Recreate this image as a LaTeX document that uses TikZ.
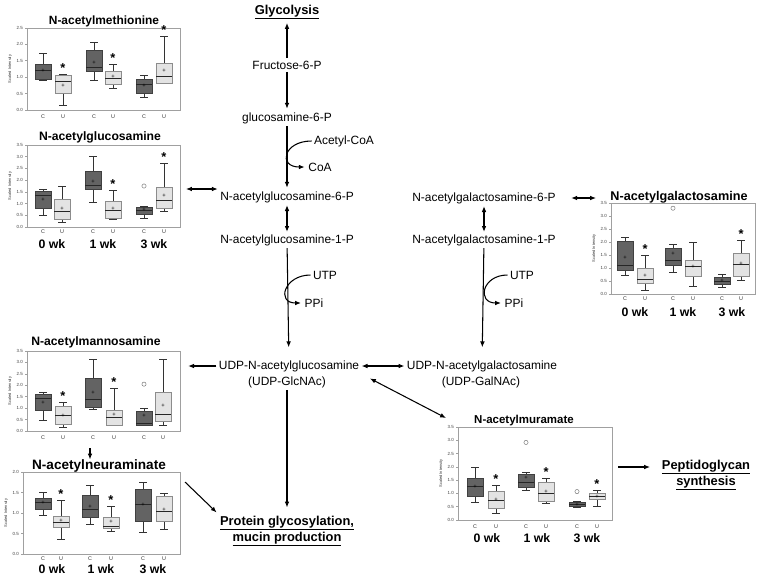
\documentclass[tikz,border=0pt]{standalone}
\usepackage{fontspec}
\setmainfont{Liberation Sans}
\usetikzlibrary{arrows.meta, positioning}

\definecolor{cdark}{HTML}{636363}
\definecolor{ulight}{HTML}{E3E3E3}
\definecolor{framegray}{HTML}{A0A0A0}

\tikzset{
  metab/.style = {font=\fontsize{10.2}{12}\selectfont, inner sep=2pt},
  endpt/.style = {font=\fontsize{11}{13.6}\selectfont\bfseries, align=center, inner sep=2pt},
  ptitle/.style = {font=\fontsize{#1}{12}\selectfont\bfseries, inner sep=1pt},
  ptitle/.default = 10.4,
  wklab/.style = {font=\fontsize{10.5}{12}\selectfont\bfseries, inner sep=0pt},
  cu/.style = {font=\fontsize{4.6}{5}\selectfont, text=black!80, inner sep=0pt},
  ticklab/.style = {font=\fontsize{3.8}{4}\selectfont, text=black!75, inner sep=0pt, anchor=east},
  ylab/.style = {font=\fontsize{3.4}{4}\selectfont, text=black!80, rotate=90, inner sep=0pt},
  pframe/.style = {draw=framegray, line width=0.6pt},
  cbox/.style = {fill=cdark, draw=black!75, line width=0.5pt},
  ubox/.style = {fill=ulight, draw=black!45, line width=0.5pt},
  whisk/.style = {draw=black!80, line width=0.5pt},
  medline/.style = {draw=black!85, line width=0.6pt},
  meanpt/.style = {font=\fontsize{5}{5}\selectfont, inner sep=0pt},
  outpt/.style = {circle, draw=black!55, line width=0.4pt, minimum size=3.6pt, inner sep=0pt},
  sig/.style = {font=\fontsize{11}{12}\selectfont\bfseries, inner sep=0pt, anchor=base, yshift=1.5pt},
  conn/.style = {line width=0.9pt, shorten >=1pt, -{Latex[length=5pt,width=4pt]}},
  dconn/.style = {line width=0.9pt, {Latex[length=5pt,width=4pt]}-{Latex[length=5pt,width=4pt]}}
}

% one box: x, whisker low, q1, median, q3, whisker high, mean, style
\newcommand{\bxp}[8]{%
  \draw[whisk] (#1,#2) -- (#1,#3) (#1,#5) -- (#1,#6)
    (#1-4,#2) -- (#1+4,#2) (#1-4,#6) -- (#1+4,#6);
  \draw[#8] (#1-8,#3) rectangle (#1+8,#5);
  \draw[medline] (#1-8,#4) -- (#1+8,#4);
  \node[meanpt] at (#1,#7) {+};}

% frame and y axis: left, right, top value, tick values
\newcommand{\pax}[4]{%
  \draw[pframe] (#1,0) rectangle (#2,#3);
  \foreach \v in {#4} {
    \draw[pframe] (#1-2,\v) -- (#1,\v);
    \node[ticklab] at (#1-4,\v) {\v};}
  \node[ylab] at (#1-17,#3/2) {Scaled Intensity};}

% C / U labels: y, then the six x
\newcommand{\culab}[7]{%
  \node[cu] at (#2,#1) {C}; \node[cu] at (#3,#1) {U};
  \node[cu] at (#4,#1) {C}; \node[cu] at (#5,#1) {U};
  \node[cu] at (#6,#1) {C}; \node[cu] at (#7,#1) {U};}

% week labels: y, then three x
\newcommand{\wks}[4]{%
  \node[wklab] at (#2,#1) {0 wk};
  \node[wklab] at (#3,#1) {1 wk};
  \node[wklab] at (#4,#1) {3 wk};}

\begin{document}
\begin{tikzpicture}[x=0.03cm, y=-0.03cm]
  \useasboundingbox (0,0) rectangle (757,575);

  % GlcNAc branch
  \node[endpt] (glyc) at (287,12) {\underline{Glycolysis}};
  \node[metab] (f6p) at (287,65) {Fructose-6-P};
  \node[metab] (gn6p) at (287,118) {glucosamine-6-P};
  \node[metab] (acoa) at (344,141) {Acetyl-CoA};
  \node[metab] (coa) at (320,167) {CoA};
  \node[metab] (gnac6p) at (287,197) {N-acetylglucosamine-6-P};
  \node[metab] (gnac1p) at (287,240) {N-acetylglucosamine-1-P};
  \node[metab] (utp1) at (325,275) {UTP};
  \node[metab] (ppi1) at (314,303) {PPi};
  \node[metab] (udpglc) at (289,366) {UDP-N-acetylglucosamine};
  \node[metab] (glcab) at (287,382) {(UDP-GlcNAc)};

  % GalNAc branch
  \node[metab] (galn6p) at (484,198) {N-acetylgalactosamine-6-P};
  \node[metab] (galn1p) at (484,240) {N-acetylgalactosamine-1-P};
  \node[metab] (utp2) at (522,275) {UTP};
  \node[metab] (ppi2) at (514,303) {PPi};
  \node[metab] (udpgal) at (482,366) {UDP-N-acetylgalactosamine};
  \node[metab] (galab) at (481,382) {(UDP-GalNAc)};

  % end points
  \node[endpt] (protein) at (287,531) {\underline{Protein glycosylation,}\\\underline{mucin production}};
  \node[endpt] (pepti) at (706,475) {\underline{Peptidoglycan}\\\underline{synthesis}};

  % plot titles
  \node[ptitle=10.2] (mettl) at (104,21) {N-acetylmethionine};
  \node[ptitle] (glctl) at (100,137) {N-acetylglucosamine};
  \node[ptitle=10.8] (galtl) at (679,197) {N-acetylgalactosamine};
  \node[ptitle] (mantl) at (96,342) {N-acetylmannosamine};
  \node[ptitle=11.6] (neutl) at (99,466) {N-acetylneuraminate};
  \node[ptitle=9.8] (murtl) at (524,421) {N-acetylmuramate};

  % free ends at the plots
  \coordinate (glcplot) at (186,189);
  \coordinate (galplot) at (596,198);
  \coordinate (manplot) at (187,366);
  \coordinate (manbot) at (90,448);
  \coordinate (neuout) at (185,482);
  \coordinate (murin) at (446,418);
  \coordinate (murout) at (618,467);

  % N-acetylmethionine
  \begin{scope}[shift={(0,110)}, y=0.984cm]
    \pax{27}{180}{2.5}{0.0,0.5,1.0,1.5,2.0,2.5}
    \bxp{43}{0.9}{0.95}{1.2}{1.4}{1.72}{1.2}{cbox}
    \bxp{63}{0.15}{0.5}{0.87}{1.05}{1.1}{0.75}{ubox}
    \bxp{94}{0.9}{1.18}{1.3}{1.82}{2.05}{1.45}{cbox}
    \bxp{113}{0.65}{0.78}{0.98}{1.17}{1.38}{1.0}{ubox}
    \bxp{144}{0.38}{0.52}{0.77}{0.95}{1.05}{0.73}{cbox}
    \bxp{164}{0.8}{0.8}{1.02}{1.43}{2.25}{1.2}{ubox}
    \node[sig] at (63,1.1) {*};
    \node[sig] at (113,1.38) {*};
    \node[sig] at (164,2.25) {*};
  \end{scope}
  \culab{117}{43}{63}{94}{113}{144}{164}

  % N-acetylglucosamine
  \begin{scope}[shift={(0,227)}, y=0.7029cm]
    \pax{27}{180}{3.5}{0.0,0.5,1.0,1.5,2.0,2.5,3.0,3.5}
    \bxp{43}{0.5}{0.78}{1.35}{1.52}{1.6}{1.18}{cbox}
    \bxp{62}{0.22}{0.33}{0.65}{1.2}{1.75}{0.78}{ubox}
    \bxp{93}{1.05}{1.6}{1.78}{2.38}{3.02}{1.95}{cbox}
    \bxp{113}{0.33}{0.38}{0.7}{1.08}{1.55}{0.78}{ubox}
    \bxp{144}{0.38}{0.55}{0.72}{0.85}{0.9}{0.72}{cbox}
    \bxp{164}{0.68}{0.82}{1.12}{1.68}{2.72}{1.33}{ubox}
    \node[outpt] at (144,1.75) {};
    \node[sig] at (113,1.55) {*};
    \node[sig] at (164,2.72) {*};
  \end{scope}
  \culab{232}{43}{62}{93}{113}{144}{164}
  \wks{244}{52}{103}{154}

  % N-acetylgalactosamine
  \begin{scope}[shift={(0,294)}, y=0.78cm]
    \pax{611}{755}{3.5}{0.0,0.5,1.0,1.5,2.0,2.5,3.0,3.5}
    \bxp{625}{0.73}{0.92}{1.1}{2.02}{2.2}{1.38}{cbox}
    \bxp{645}{0.15}{0.4}{0.55}{1.0}{1.5}{0.7}{ubox}
    \bxp{673}{0.83}{1.12}{1.3}{1.75}{1.92}{1.55}{cbox}
    \bxp{693}{0.28}{0.7}{1.05}{1.3}{1.97}{1.05}{ubox}
    \bxp{722}{0.27}{0.37}{0.48}{0.65}{0.77}{0.52}{cbox}
    \bxp{741}{0.53}{0.7}{1.15}{1.57}{2.07}{1.15}{ubox}
    \node[outpt] at (673,3.3) {};
    \node[sig] at (645,1.5) {*};
    \node[sig] at (741,2.07) {*};
  \end{scope}
  \culab{299}{625}{645}{673}{693}{722}{741}
  \wks{312}{635}{683}{732}

  % N-acetylmannosamine
  \begin{scope}[shift={(0,431)}, y=0.6857cm]
    \pax{27}{180}{3.5}{0.0,0.5,1.0,1.5,2.0,2.5,3.0,3.5}
    \bxp{43}{0.48}{0.9}{1.45}{1.6}{1.68}{1.25}{cbox}
    \bxp{63}{0.18}{0.3}{0.68}{1.08}{1.25}{0.68}{ubox}
    \bxp{93}{0.95}{1.02}{1.38}{2.32}{3.15}{1.68}{cbox}
    \bxp{114}{0.25}{0.25}{0.6}{0.92}{1.88}{0.72}{ubox}
    \bxp{144}{0.25}{0.25}{0.35}{0.88}{0.98}{0.65}{cbox}
    \bxp{163}{0.25}{0.42}{0.73}{1.7}{3.12}{1.12}{ubox}
    \node[outpt] at (144,2.05) {};
    \node[sig] at (63,1.25) {*};
    \node[sig] at (114,1.88) {*};
  \end{scope}
  \culab{438}{43}{63}{93}{114}{144}{163}

  % N-acetylneuraminate
  \begin{scope}[shift={(0,554)}, y=1.23cm]
    \pax{23}{180}{2.0}{0.0,0.5,1.0,1.5,2.0}
    \bxp{43}{0.95}{1.1}{1.25}{1.37}{1.5}{1.25}{cbox}
    \bxp{61}{0.37}{0.64}{0.78}{0.93}{1.32}{0.8}{ubox}
    \bxp{90}{0.73}{0.9}{1.08}{1.42}{1.68}{1.15}{cbox}
    \bxp{111}{0.55}{0.62}{0.68}{0.9}{1.17}{0.78}{ubox}
    \bxp{143}{0.53}{0.8}{1.2}{1.58}{1.75}{1.2}{cbox}
    \bxp{164}{0.6}{0.8}{1.03}{1.4}{1.48}{1.08}{ubox}
    \node[sig] at (61,1.32) {*};
    \node[sig] at (111,1.17) {*};
  \end{scope}
  \culab{559}{43}{61}{90}{111}{143}{164}
  \wks{569}{52}{101}{153}

  % N-acetylmuramate
  \begin{scope}[shift={(0,520)}, y=0.7971cm]
    \pax{458}{612}{3.5}{0.0,0.5,1.0,1.5,2.0,2.5,3.0,3.5}
    \bxp{475}{0.65}{0.88}{1.25}{1.58}{2.0}{1.25}{cbox}
    \bxp{496}{0.27}{0.45}{0.75}{1.08}{1.32}{0.75}{ubox}
    \bxp{526}{1.12}{1.25}{1.4}{1.72}{1.78}{1.58}{cbox}
    \bxp{546}{0.62}{0.7}{1.02}{1.43}{1.58}{1.05}{ubox}
    \bxp{577}{0.47}{0.5}{0.58}{0.68}{0.72}{0.58}{cbox}
    \bxp{597}{0.53}{0.77}{0.9}{1.02}{1.12}{0.88}{ubox}
    \node[outpt] at (526,2.92) {};
    \node[outpt] at (577,1.07) {};
    \node[sig] at (496,1.32) {*};
    \node[sig] at (546,1.58) {*};
    \node[sig] at (597,1.12) {*};
  \end{scope}
  \culab{527}{475}{496}{526}{546}{577}{597}
  \wks{538}{487}{537}{587}

  % pathway arrows
  \draw[conn] (f6p.north) -- (glyc.south);
  \draw[conn] (f6p) -- (gn6p);
  \draw[conn] (gn6p) -- (gnac6p);
  \draw[conn] (acoa.west) to[out=180, in=180, looseness=2.7] (coa.west);
  \draw[dconn] (gnac6p) -- (gnac1p);
  \draw[conn, shorten >=9pt] (gnac1p) -- (udpglc);
  \draw[conn] (utp1.west) to[out=180, in=180, looseness=2.3] (ppi1.west);
  \draw[dconn] (galn6p) -- (galn1p);
  \draw[conn, shorten >=9pt] (galn1p) -- (udpgal);
  \draw[conn] (utp2.west) to[out=180, in=180, looseness=2.3] (ppi2.west);
  \draw[dconn] (udpglc) -- (udpgal);
  \draw[conn, shorten >=5pt] (glcab) -- (protein);

  % arrows to and from the plots
  \draw[dconn] (gnac6p.west |- glcplot) -- (glcplot);
  \draw[dconn, shorten <=11pt] (galn6p.east) -- (galplot);
  \draw[conn] (udpglc.west) -- (manplot);
  \draw[dconn, shorten <=8pt] (udpglc.south east) -- (murin);
  \draw[conn, shorten >=-1pt] (manbot) -- (manbot |- neutl.north);
  \draw[conn] (neuout) -- (protein.north west);
  \draw[conn, shorten >=8pt] (murout) -- (murout -| pepti.west);

\end{tikzpicture}
\end{document}
